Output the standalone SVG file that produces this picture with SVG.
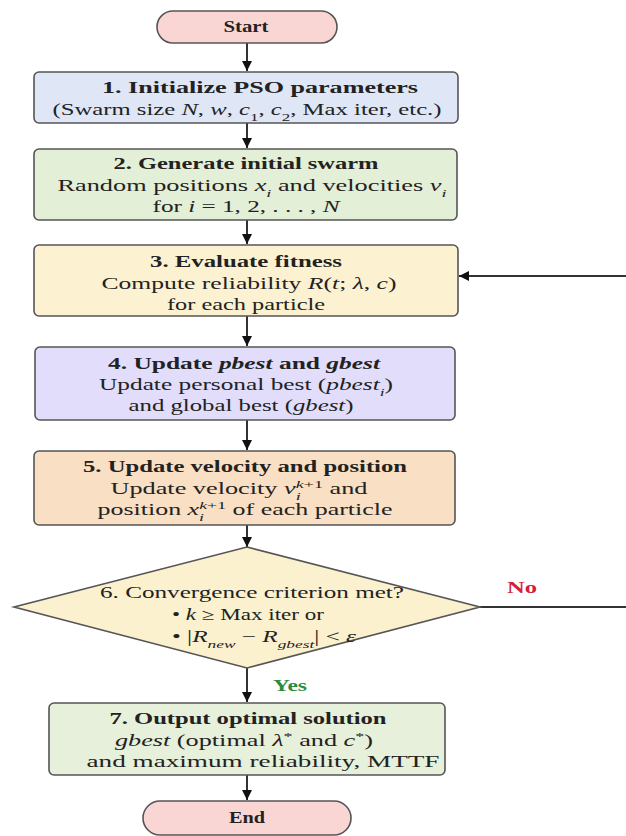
<svg xmlns="http://www.w3.org/2000/svg" width="626" height="836" viewBox="0 0 626 836">
<style>
text{font-family:"Liberation Serif","Times New Roman",serif;font-size:16px;fill:#222;text-anchor:middle}
.b{font-weight:bold}
.i{font-style:italic}
.sub{font-size:11px;baseline-shift:sub}
.sup{font-size:11px;baseline-shift:super}
.box{stroke:#555;stroke-width:1.6}
.conn line,.conn path{stroke:#333;stroke-width:2;fill:none}
.yes{fill:#2e8b3e;font-weight:bold;font-size:17px}
.no{fill:#d4203c;font-weight:bold;font-size:17px}
</style>
<defs>
<marker id="ah" viewBox="0 0 10 10" refX="10" refY="5" markerWidth="5" markerHeight="5" orient="auto-start-reverse">
<path d="M0,0 L10,5 L0,10 z" fill="#111"/>
</marker>
</defs>
<rect width="626" height="836" fill="#fff"/>

<g class="conn">
<line x1="247" y1="43" x2="247" y2="71" marker-end="url(#ah)"/>
<line x1="247" y1="123" x2="247" y2="148" marker-end="url(#ah)"/>
<line x1="247" y1="220" x2="247" y2="244" marker-end="url(#ah)"/>
<line x1="247" y1="316" x2="247" y2="346" marker-end="url(#ah)"/>
<line x1="247" y1="420" x2="247" y2="450" marker-end="url(#ah)"/>
<line x1="247" y1="525" x2="247" y2="547" marker-end="url(#ah)"/>
<line x1="247" y1="668" x2="247" y2="702" marker-end="url(#ah)"/>
<line x1="247" y1="775" x2="247" y2="800" marker-end="url(#ah)"/>
<line x1="480" y1="607" x2="626" y2="607"/>
<line x1="626" y1="276" x2="459" y2="276" marker-end="url(#ah)"/>
<text class="no" x="522" y="593" textLength="30" lengthAdjust="spacingAndGlyphs">No</text>
<text class="yes" x="290" y="691" textLength="34" lengthAdjust="spacingAndGlyphs">Yes</text>
</g>

<g id="start">
<rect class="box" x="157" y="11" width="180" height="32" rx="16" fill="#f9d5d3"/>
<text class="b" x="246" y="32" textLength="45" lengthAdjust="spacingAndGlyphs">Start</text>
</g>

<g id="step1">
<rect class="box" x="34" y="72" width="424" height="51" rx="5" fill="#dfe7f7"/>
<text class="b" x="260" y="93" textLength="316" lengthAdjust="spacingAndGlyphs">1. Initialize PSO parameters</text>
<text x="247" y="115" textLength="389" lengthAdjust="spacingAndGlyphs">(Swarm size <tspan class="i">N</tspan>, <tspan class="i">w</tspan>, <tspan class="i">c</tspan><tspan class="sub">1</tspan>, <tspan class="i">c</tspan><tspan class="sub">2</tspan>, Max iter, etc.)</text>
</g>

<g id="step2">
<rect class="box" x="34" y="149" width="423" height="71" rx="5" fill="#e3efd6"/>
<text class="b" x="246" y="169" textLength="265" lengthAdjust="spacingAndGlyphs">2. Generate initial swarm</text>
<text x="252" y="191" textLength="389" lengthAdjust="spacingAndGlyphs">Random positions <tspan class="i">x</tspan><tspan class="sub i">i</tspan> and velocities <tspan class="i">v</tspan><tspan class="sub i">i</tspan></text>
<text x="246" y="212" textLength="187" lengthAdjust="spacingAndGlyphs">for <tspan class="i">i</tspan> = 1, 2, . . . , <tspan class="i">N</tspan></text>
</g>

<g id="step3">
<rect class="box" x="34" y="245" width="424" height="71" rx="5" fill="#fcf2d2"/>
<text class="b" x="246" y="267" textLength="192" lengthAdjust="spacingAndGlyphs">3. Evaluate fitness</text>
<text x="249" y="289" textLength="295" lengthAdjust="spacingAndGlyphs">Compute reliability <tspan class="i">R</tspan>(<tspan class="i">t</tspan>; <tspan class="i">λ</tspan>, <tspan class="i">c</tspan>)</text>
<text x="246" y="310" textLength="158" lengthAdjust="spacingAndGlyphs">for each particle</text>
</g>

<g id="step4">
<rect class="box" x="35" y="347" width="420" height="73" rx="5" fill="#e1ddfa"/>
<text class="b" x="244" y="369" textLength="272" lengthAdjust="spacingAndGlyphs">4. Update <tspan class="i">pbest</tspan> and <tspan class="i">gbest</tspan></text>
<text x="246" y="390" textLength="294" lengthAdjust="spacingAndGlyphs">Update personal best (<tspan class="i">pbest</tspan><tspan class="sub i">i</tspan>)</text>
<text x="241" y="411" textLength="225" lengthAdjust="spacingAndGlyphs">and global best (<tspan class="i">gbest</tspan>)</text>
</g>

<g id="step5">
<rect class="box" x="34" y="451" width="421" height="74" rx="5" fill="#f9dfc4"/>
<text class="b" x="245" y="472" textLength="324" lengthAdjust="spacingAndGlyphs">5. Update velocity and position</text>
<text x="239" y="494" textLength="257" lengthAdjust="spacingAndGlyphs">Update velocity <tspan class="i">v</tspan><tspan class="sub i">i</tspan><tspan class="sup i" dx="-3">k</tspan><tspan class="sup">+1</tspan> and</text>
<text x="245" y="515" textLength="295" lengthAdjust="spacingAndGlyphs">position <tspan class="i">x</tspan><tspan class="sub i">i</tspan><tspan class="sup i" dx="-3">k</tspan><tspan class="sup">+1</tspan> of each particle</text>
</g>

<g id="step6">
<polygon class="box" points="247,547 480,607 247,668 14,607" fill="#fbf1cf"/>
<text x="252" y="598" textLength="304" lengthAdjust="spacingAndGlyphs">6. Convergence criterion met?</text>
<text x="248" y="620" textLength="152" lengthAdjust="spacingAndGlyphs">• <tspan class="i">k</tspan> ≥ Max iter or</text>
<text x="264" y="642" textLength="184" lengthAdjust="spacingAndGlyphs">• |<tspan class="i">R</tspan><tspan class="sub i">new</tspan> − <tspan class="i">R</tspan><tspan class="sub i">gbest</tspan>| &lt; <tspan class="i">ε</tspan></text>
</g>

<g id="step7">
<rect class="box" x="49" y="703" width="396" height="72" rx="5" fill="#e6f0db"/>
<text class="b" x="248" y="724" textLength="277" lengthAdjust="spacingAndGlyphs">7. Output optimal solution</text>
<text x="244" y="746" textLength="258" lengthAdjust="spacingAndGlyphs"><tspan class="i">gbest</tspan> (optimal <tspan class="i">λ</tspan><tspan class="sup">*</tspan> and <tspan class="i">c</tspan><tspan class="sup">*</tspan>)</text>
<text x="263" y="767" textLength="353" lengthAdjust="spacingAndGlyphs">and maximum reliability, MTTF</text>
</g>

<g id="end">
<rect class="box" x="143" y="801" width="208" height="34" rx="17" fill="#f9d5d3"/>
<text class="b" x="247" y="823" textLength="36" lengthAdjust="spacingAndGlyphs">End</text>
</g>
</svg>
